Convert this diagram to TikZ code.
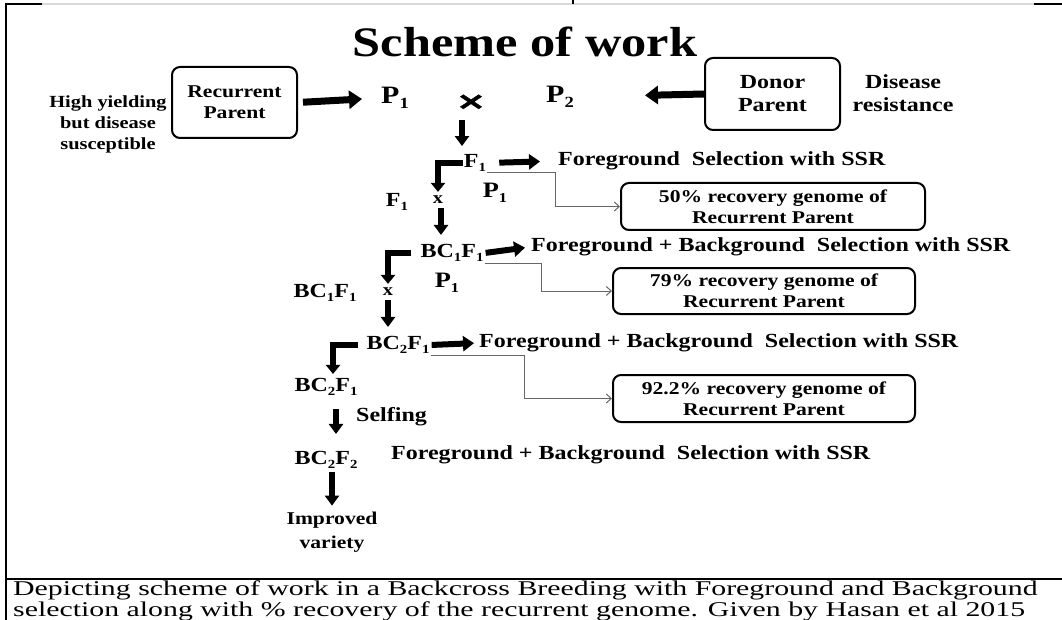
\documentclass[tikz,border=0pt]{standalone}
\usepackage{fontspec}
\setmainfont{Liberation Serif}
\newfontfamily\dg{Liberation Serif}[FakeStretch=1.2]
\newfontfamily\cp{Liberation Serif}[FakeStretch=1.42]
\newfontfamily\crf{DejaVu Sans}[FakeStretch=1.5,FakeBold=2]
\usetikzlibrary{arrows.meta,calc}
\newcommand{\sbs}[1]{\raisebox{-0.22em}{\scalebox{0.62}{#1}}}
\begin{document}
\begin{tikzpicture}[x=1pt,y=-1pt,
  tx/.style={inner sep=1pt, text=black},
  ttl/.style={tx, font=\dg\bfseries\fontsize{42}{46}\selectfont},
  b17/.style={tx, font=\dg\bfseries\fontsize{17}{21}\selectfont},
  b18/.style={tx, font=\dg\bfseries\fontsize{18}{24}\selectfont},
  b20/.style={tx, font=\dg\bfseries\fontsize{20}{23}\selectfont},
  b22/.style={tx, font=\dg\bfseries\fontsize{22}{25}\selectfont},
  b25/.style={tx, font=\dg\bfseries\fontsize{25}{28}\selectfont},
  crs/.style={tx, font=\crf\bfseries\fontsize{24}{24}\selectfont},
  capt/.style={inner sep=1pt, font=\cp\fontsize{21}{19}\selectfont},
  rbox/.style={draw, line width=2pt, rounded corners=8pt, inner sep=0pt, align=center, text=black},
  fat/.style={line width=7pt, -{Triangle[length=13pt,width=18pt]}},
  fatsm/.style={line width=6pt, -{Triangle[length=11pt,width=15pt]}},
  fatd/.style={line width=6pt, -{Triangle[length=10pt,width=14pt]}},
  brk/.style={line width=6pt, line join=miter, -{Triangle[length=9pt,width=14pt]}},
  conn/.style={draw=black!60, line width=1pt, -{Straight Barb[length=5pt,width=9pt]}},
  frame/.style={line width=2.5pt, black}
]
\useasboundingbox (0,0) rectangle (1062,620);
% frame of the table cell
\draw[frame] (6,3) -- (6,620);
\draw[frame] (5,4) -- (42,4);
\draw[black!15, line width=1.5pt] (42,4) -- (1034,4);
\draw[frame] (1034,4) -- (1062,4);
\draw[line width=2pt] (573,0) -- (573,4);
\draw[frame] (5,579) -- (1062,579);

% title and top row
\node[ttl] (title) at (525,42) {Scheme of work};
\node[b17, align=center] (hy) at (108,124) {High yielding\\but disease\\susceptible};
\node[rbox, minimum width=125pt, minimum height=71pt, font=\dg\bfseries\fontsize{18}{21}\selectfont] (rp) at (234.5,102.5) {Recurrent\\Parent};
\node[b25] (p1a) at (395,98) {P\sbs{1}};
\node[crs] (cr) at (471,102) {×};
\node[b25] (p2) at (560,97) {P\sbs{2}};
\node[rbox, minimum width=135pt, minimum height=72pt, font=\dg\bfseries\fontsize{20}{23}\selectfont] (dp) at (772.5,94) {Donor\\Parent};
\node[b20, align=center] (dr) at (903,93) {Disease\\resistance};

\draw[fat, shorten <=5pt, shorten >=18pt] (rp.east) -- (p1a.west);
\draw[fat, shorten >=70pt] (dp.west) -- (p2.east);

% stage 1
\node[b20] (f1) at (475,163) {F\sbs{1}};
\node[b17] (x1) at (438,200) {x};
\node[b22] (p1b) at (495,193) {P\sbs{1}};
\node[b20] (f1l) at (397,202) {F\sbs{1}};
\node[b20] (bc1) at (452,253) {BC\sbs{1}F\sbs{1}};
\node[b20, anchor=west] (fg1) at (557,161) {Foreground\ \ Selection with SSR};
\node[rbox, minimum width=304pt, minimum height=47pt, font=\dg\bfseries\fontsize{18}{21}\selectfont] (b50) at (773,206.5) {50\% recovery genome of\\Recurrent Parent};

\draw[fatd, shorten <=10pt, shorten >=7pt] ([xshift=-9pt]cr.south) -- ([xshift=-9pt]cr.south |- f1.north);
\draw[brk, shorten >=3pt] (f1.west) -| (x1.north);
\draw[fatsm, shorten <=12pt, shorten >=17pt] (f1.east) -- (fg1.west);
\draw[conn] (f1.south east) -- ++(68,0) |- (b50.west);
\draw[fatd, shorten <=3pt, shorten >=8pt] ([xshift=3pt]x1.south) -- ([xshift=3pt]x1.south |- bc1.north);

% stage 2
\node[b20, anchor=west] (fg2) at (530,247) {Foreground + Background\ \ Selection with SSR};
\node[b17] (x2) at (388,292) {x};
\node[b22] (p1c) at (447,283) {P\sbs{1}};
\node[b20] (bc1l) at (325,293) {BC\sbs{1}F\sbs{1}};
\node[rbox, minimum width=302pt, minimum height=46pt, font=\dg\bfseries\fontsize{18}{21}\selectfont] (b79) at (764,291) {79\% recovery genome of\\Recurrent Parent};
\node[b20] (bc2) at (398,345) {BC\sbs{2}F\sbs{1}};

\draw[fatsm, shorten <=1pt, shorten >=5pt] (bc1.east) -- (fg2.west);
\draw[brk, shorten <=8pt, shorten >=3pt] (bc1.west) -| (x2.north);
\draw[conn] (bc1.south east) -- ++(57,0) |- (b79.west);
\draw[fatd, shorten <=3pt, shorten >=8pt] (x2.south) -- (x2.south |- bc2.north);

% stage 3
\node[b20, anchor=west] (fg3) at (478,343) {Foreground + Background\ \ Selection with SSR};
\node[b20] (bc2l) at (326,387) {BC\sbs{2}F\sbs{1}};
\node[rbox, minimum width=302pt, minimum height=47pt, font=\dg\bfseries\fontsize{18}{21}\selectfont] (b92) at (764,398.5) {92.2\% recovery genome of\\Recurrent Parent};
\node[b20, anchor=west] (self) at (355,417) {Selfing};
\node[b20] (bc22) at (326,460) {BC\sbs{2}F\sbs{2}};
\node[b20, anchor=west] (fg4) at (390,455) {Foreground + Background\ \ Selection with SSR};
\node[b18, align=center] (imp) at (332,532) {Improved\\variety};

\draw[fatsm, shorten <=1pt, shorten >=4pt] (bc2.east) -- (fg3.west);
\draw[brk, shorten <=7pt, shorten >=3pt] (bc2.west) -| ([xshift=7pt]bc2l.north);
\draw[conn] (bc2.south east) -- ++(94,0) |- (b92.west);
\draw[fatd, shorten <=12pt, shorten >=16pt] ([xshift=10pt]bc2l.south) -- ([xshift=10pt]bc2l.south |- bc22.north);
\draw[fatd, shorten <=2pt, shorten >=5pt] ([xshift=6pt]bc22.south) -- ([xshift=6pt]bc22.south |- imp.north);

% caption
\node[capt, anchor=north west, align=left] (cap) at (12,580) {Depicting scheme of work in a Backcross Breeding with Foreground and Background\\selection along with \% recovery of the recurrent genome. Given by Hasan et al 2015};
\end{tikzpicture}
\end{document}
